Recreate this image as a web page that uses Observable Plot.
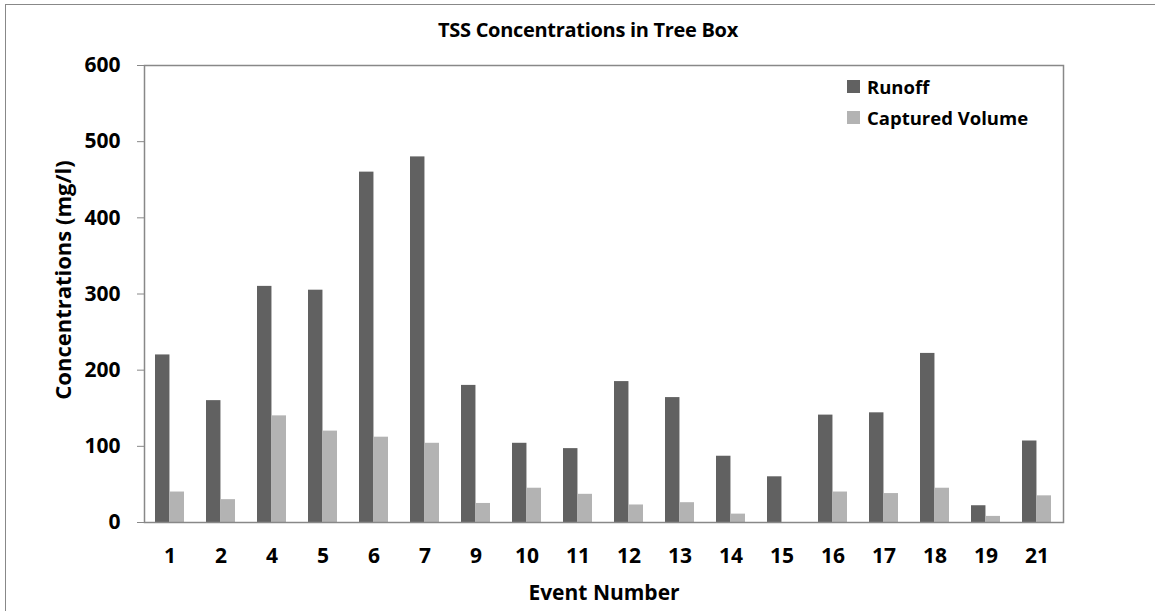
<!DOCTYPE html>
<html>
<head>
<meta charset="utf-8">
<script src="https://cdn.jsdelivr.net/npm/d3@7"></script>
<script src="https://cdn.jsdelivr.net/npm/@observablehq/plot@0.6"></script>
<style>
  html, body { margin: 0; padding: 0; background: #fff; }
  #wrap { position: relative; width: 1155px; height: 611px; overflow: hidden; font-family: "Open Sans", sans-serif; font-weight: bold; color: #000; }
  #outer { position: absolute; left: 5px; top: 4px; width: 1200px; height: 700px; border-top: 1.5px solid #888; border-left: 1.5px solid #888; }
  #title { position: absolute; left: 588px; top: 29px; transform: translate(-50%, -50%); font-size: 20px; letter-spacing: -0.3px; white-space: nowrap; }
  #ylabel { position: absolute; left: 62px; top: 280px; transform: translate(-50%, -50%) rotate(-90deg); font-size: 22px; white-space: nowrap; }
  #xlabel { position: absolute; left: 604px; top: 592px; transform: translate(-50%, -50%); font-size: 21px; white-space: nowrap; }
  #legend { position: absolute; left: 847px; top: 71px; font-size: 18.5px; }
  .item { display: flex; align-items: center; height: 31px; }
  .sw { width: 13px; height: 13px; margin-right: 7px; }
  svg { position: absolute; left: 0; top: 0; }
</style>
</head>
<body>
<div id="wrap">
  <div id="outer"></div>
</div>
<script>
const events = ["1","2","4","5","6","7","9","10","11","12","13","14","15","16","17","18","19","21"];
const runoff = [220,160,310,305,460,480,180,104,97,185,164,87,60,141,144,222,22,107];
const captured = [40,30,140,120,112,104,25,45,37,23,26,11,0,40,38,45,8,35];
const seriesNames = ["Runoff", "Captured Volume"];
const seriesColors = ["#616161", "#b3b3b3"];
const yTicks = [0,100,200,300,400,500,600];
const titleText = "TSS Concentrations in Tree Box";
const xLabelText = "Event Number";
const yLabelText = "Concentrations (mg/l)";

const W = 1155, H = 611;
const mL = 144, mR = 92, mT = 65, mB = 89;
const padInner = 0.43, padOuter = 0.215;
const step = (W - mL - mR) / (events.length - padInner + 2 * padOuter);
const half = step * (1 - padInner) / 2;

const runoffData = events.map((e, i) => ({event: e, value: runoff[i], series: seriesNames[0]}));
const capturedData = events.map((e, i) => ({event: e, value: captured[i], series: seriesNames[1]}));

const chart = Plot.plot({
  width: W, height: H,
  marginLeft: mL, marginRight: mR, marginTop: mT, marginBottom: mB,
  style: {fontFamily: "'Open Sans', sans-serif", fontWeight: "bold", color: "#000", background: "transparent"},
  x: {domain: events, paddingInner: padInner, paddingOuter: padOuter},
  y: {domain: [0, 600]},
  color: {domain: seriesNames, range: seriesColors},
  marks: [
    Plot.barY(runoffData, {x: "event", y: "value", fill: "series", insetRight: half, insetLeft: 0}),
    Plot.barY(capturedData, {x: "event", y: "value", fill: "series", insetLeft: half, insetRight: 0}),
    Plot.frame({stroke: "#888", strokeWidth: 1.5}),
    Plot.axisY(yTicks, {tickSize: 7, tickPadding: 17, fontSize: 21, stroke: "#888", label: null}),
    Plot.axisX({tickSize: 0, tickPadding: 26, fontSize: 21, label: null})
  ]
});

const wrap = document.getElementById("wrap");
wrap.appendChild(chart);

function addDiv(id, text) {
  const d = document.createElement("div");
  d.id = id; d.textContent = text; wrap.appendChild(d);
}
addDiv("title", titleText);
addDiv("ylabel", yLabelText);
addDiv("xlabel", xLabelText);

const legend = document.createElement("div");
legend.id = "legend";
seriesNames.forEach((s, i) => {
  const it = document.createElement("div"); it.className = "item";
  const sw = document.createElement("div"); sw.className = "sw"; sw.style.background = seriesColors[i];
  const t = document.createElement("span"); t.textContent = s;
  it.appendChild(sw); it.appendChild(t); legend.appendChild(it);
});
wrap.appendChild(legend);
</script>
</body>
</html>
